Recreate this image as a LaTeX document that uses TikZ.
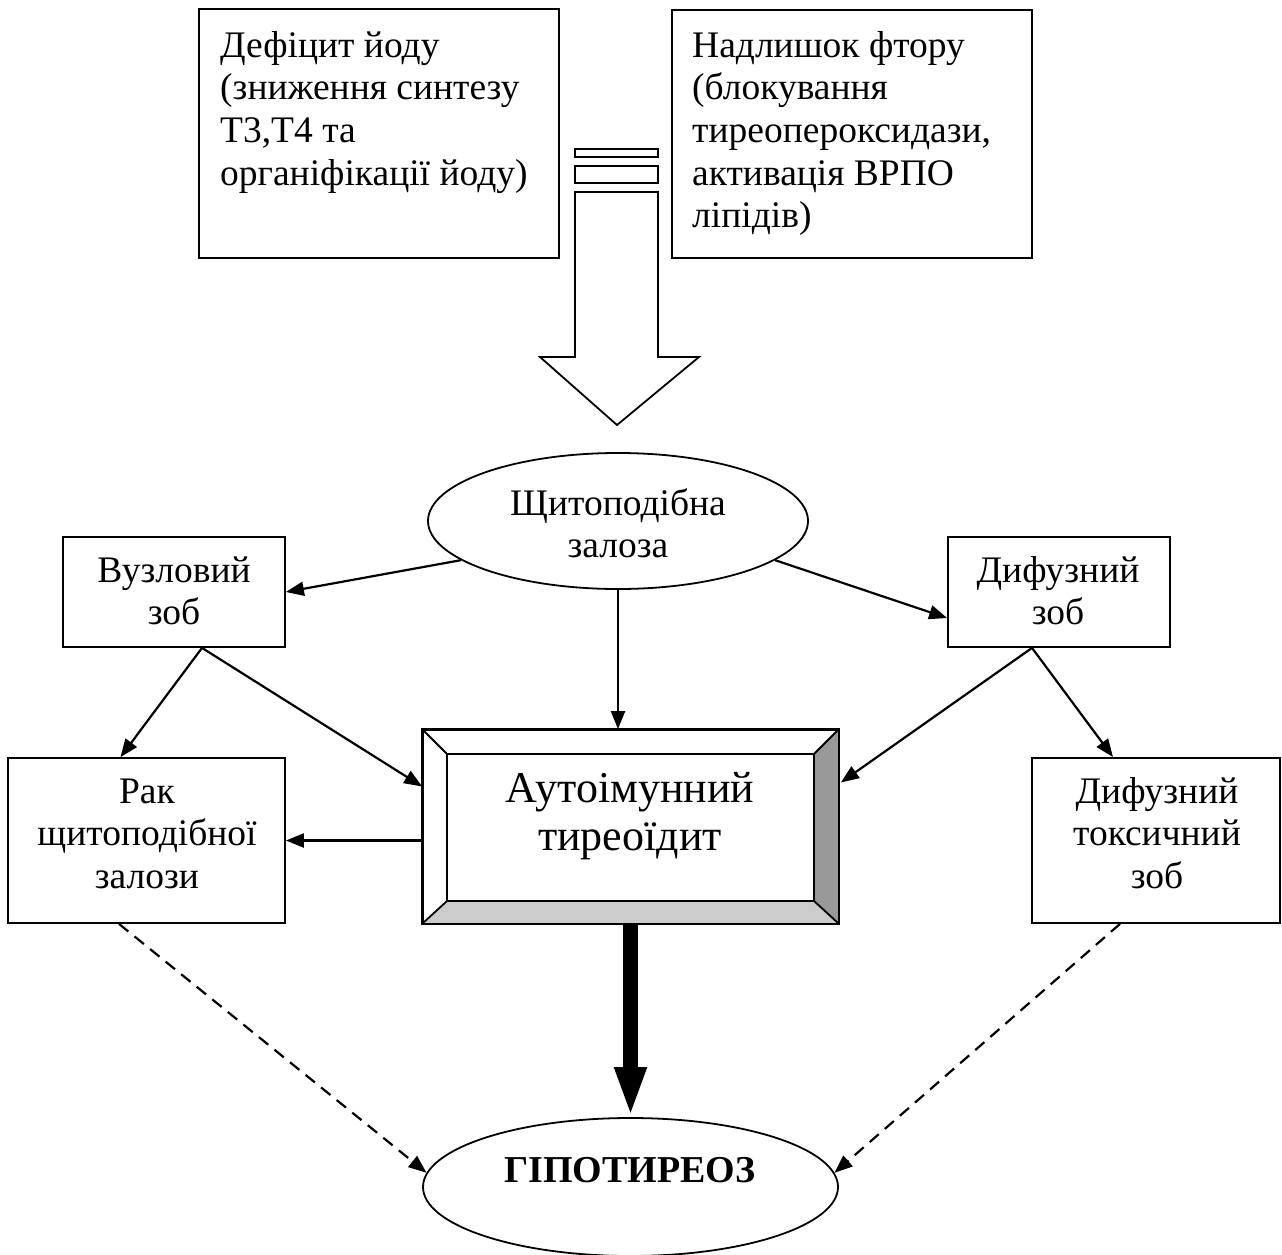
\documentclass[tikz,border=0pt]{standalone}
\usepackage{fontspec}
\setmainfont{Liberation Serif}
\usetikzlibrary{shapes.geometric,arrows.meta,calc}
\begin{document}
\begin{tikzpicture}[x=1pt,y=-1pt,
  box/.style={draw,line width=1.8pt,rectangle,inner sep=0pt},
  oval/.style={draw,line width=1.8pt,ellipse,inner sep=0pt},
  txt/.style={inner sep=0pt,align=center,anchor=north,font=\fontsize{37.5}{42.7}\selectfont},
  txtl/.style={txt,align=left,anchor=north west},
  arr/.style={line width=2.2pt,-{Triangle[length=18pt,width=14pt]}},
  darr/.style={arr,dash pattern=on 12pt off 8pt},
  bevline/.style={line width=1.8pt,line join=miter}
]
\fill[white] (0,0) rectangle (1282,1255);
\useasboundingbox (0,0) rectangle (1282,1255);

% top boxes
\node[box,minimum width=360pt,minimum height=249pt] (b1) at (379,133.5) {};
\node[txtl] (t1) at (220,27.1) {\strut Дефіцит йоду\\(зниження синтезу\\Т3,Т4 та\\органіфікації йоду)};
\node[box,minimum width=360pt,minimum height=248pt] (b2) at (852,134) {};
\node[txtl] (t2) at (692,27.1) {\strut Надлишок фтору\\(блокування\\тиреопероксидази,\\активація ВРПО\\ліпідів)};

% block arrow
\draw[bevline,fill=white] (575,149) rectangle (658,157);
\draw[bevline,fill=white] (575,166) rectangle (658,183);
\draw[bevline,fill=white] (575,192) -- (658,192) -- (658,357) -- (699,357) -- (617,425)
  -- (540,357) -- (575,357) -- cycle;

% thyroid ellipse
\node[oval,minimum width=380pt,minimum height=136pt] (thy) at (618,521) {};
\node[txt] (tthy) at (618,485.1) {\strut Щитоподібна\\залоза};

% goiters
\node[box,minimum width=222pt,minimum height=110pt] (vuz) at (174,592) {};
\node[txt] (tvuz) at (174,552.1) {\strut Вузловий\\зоб};
\node[box,minimum width=222pt,minimum height=110pt] (dif) at (1059,592) {};
\node[txt] (tdif) at (1058,552.1) {\strut Дифузний\\зоб};

% lower boxes
\node[box,minimum width=277pt,minimum height=165pt] (rak) at (146.5,840.5) {};
\node[txt] (trak) at (147,773.1) {\strut Рак\\щитоподібної\\залози};
\node[box,minimum width=248pt,minimum height=165pt] (tox) at (1156,840.5) {};
\node[txt] (ttox) at (1157,773.1) {\strut Дифузний\\токсичний\\зоб};

% bevel box
\node[box,fill=white,minimum width=415pt,minimum height=193pt] (bev) at (630.5,826.5) {};
\fill[black!40] (838,730) -- (838,923) -- (814,901) -- (814,754) -- cycle;
\fill[black!20] (423,923) -- (838,923) -- (814,901) -- (447,901) -- cycle;
\draw[bevline] (423,730) -- (447,754) (838,730) -- (814,754)
  (838,923) -- (814,901) (423,923) -- (447,901);
\draw[bevline] (447,754) rectangle (814,901);
\draw[bevline] (bev.north west) rectangle (bev.south east);
\node[txt,font=\fontsize{44}{48}\selectfont] (tbev) at (630,768.4) {\strut Аутоімунний\\тиреоїдит};

% hypothyroidism
\node[oval,minimum width=415pt,minimum height=138pt] (hyp) at (630.5,1187) {};
\node[inner sep=0pt,anchor=base,font=\fontsize{38}{44}\selectfont\bfseries] (thyp) at (630,1182) {ГІПОТИРЕОЗ};

% connectors
\draw[arr] (thy.194) -- (vuz.east);
\draw[arr] (thy.346) -- ($(dif.west)+(0,26)$);
\draw[arr] (thy.south) -- (thy.south |- bev.north);
\draw[arr] ($(vuz.south)+(28,0)$) -- ($(rak.north)+(-26,0)$);
\draw[arr] ($(vuz.south)+(28,0)$) -- ($(bev.west)+(0,-40)$);
\draw[arr] ($(dif.south)+(-27,0)$) -- ($(bev.east)+(2,-44)$);
\draw[arr] ($(dif.south)+(-27,0)$) -- ($(tox.north)+(-43,0)$);
\draw[arr] (bev.west |- rak.east) -- (rak.east);
\draw[line width=15pt,-{Triangle[length=50pt,width=29pt]}] (bev.south) -- (hyp.north);
\draw[darr] ($(rak.south)+(-27.5,0)$) -- (hyp.176);
\draw[darr] ($(tox.south)+(-36,0)$) -- (hyp.4);
\end{tikzpicture}
\end{document}
